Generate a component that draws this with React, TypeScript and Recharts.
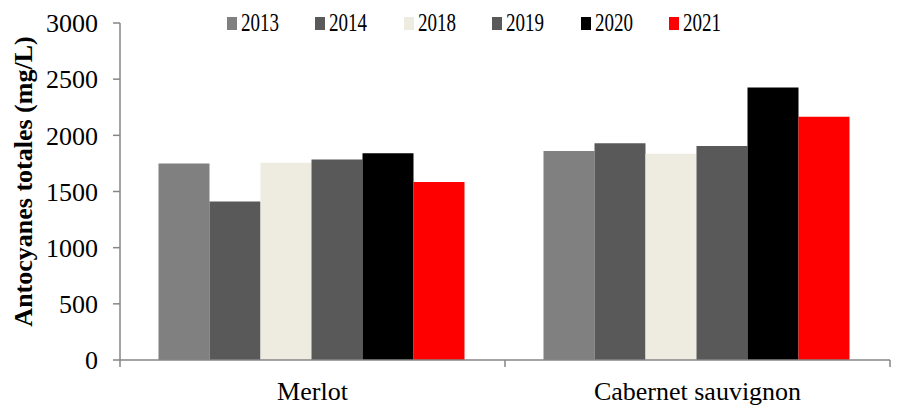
import { BarChart, Bar, XAxis, YAxis, Legend, Label } from 'recharts'

const CATEGORIES = ['Merlot', 'Cabernet sauvignon']
const YEARS = ['2013', '2014', '2018', '2019', '2020', '2021']
const V2013 = [1750, 1860]
const V2014 = [1410, 1930]
const V2018 = [1755, 1835]
const V2019 = [1785, 1905]
const V2020 = [1840, 2425]
const V2021 = [1585, 2165]
const SERIES = [V2013, V2014, V2018, V2019, V2020, V2021]
const COLORS = ['#808080', '#595959', '#EEECE1', '#595959', '#000000', '#FF0000']
const Y_TICKS = [0, 500, 1000, 1500, 2000, 2500, 3000]

const data = CATEGORIES.map((cat, i) => {
  const row: any = { cat }
  YEARS.forEach((y, j) => { row[y] = SERIES[j][i] })
  return row
})

const FONT = '"Liberation Serif", "Times New Roman", serif'
const AXIS = '#868686'
const W = 899
const H = 407
const MARGIN = { top: 23, right: 9, bottom: 0, left: 0 }
const Y_W = 120

function CatTick(props: any) {
  const { x, y, payload, index } = props
  const band = (W - Y_W - MARGIN.right) / CATEGORIES.length
  const half = payload?.offset || band / 2
  const top = y - 7
  return (
    <g>
      <line x1={x - half} x2={x - half} y1={top} y2={top + 7} stroke={AXIS} strokeWidth={1.5} />
      {index === CATEGORIES.length - 1 && (
        <line x1={x + half} x2={x + half} y1={top} y2={top + 7} stroke={AXIS} strokeWidth={1.5} />
      )}
      <text x={x} y={top + 40} textAnchor="middle" fontSize={26} fontFamily={FONT} fill="#000">
        {payload.value}
      </text>
    </g>
  )
}

function LegendBox({ payload }: any) {
  return (
    <div style={{ display: 'flex', fontFamily: FONT }}>
      {(payload || []).map((p: any) => (
        <div key={p.value} style={{ width: 88.4, display: 'flex', alignItems: 'flex-start', position: 'relative', height: 30 }}>
          <span style={{ width: 10, height: 13, background: p.color, marginTop: 17, display: 'inline-block' }} />
          <span style={{
            display: 'inline-block', fontSize: 26, lineHeight: '26px', marginTop: 10, marginLeft: 4,
            transform: 'scaleX(0.73)', transformOrigin: 'left center', color: '#000',
          }}>
            {p.value}
          </span>
        </div>
      ))}
    </div>
  )
}

function YTitle(props: any) {
  const cy = 181.5
  const cx = 32
  return (
    <text
      x={cx} y={cy} transform={`rotate(-90 ${cx} ${cy})`} textAnchor="middle"
      fontSize={26} fontWeight="bold" fontFamily={FONT} fill="#000"
    >
      Antocyanes totales (mg/L)
    </text>
  )
}

export default function App() {
  return (
    <div style={{ position: 'absolute', left: 0, top: 0, width: W, height: H, background: '#fff' }}>
      <BarChart width={W} height={H} data={data} margin={MARGIN} barCategoryGap="10%" barGap={0}>
        <XAxis
          dataKey="cat"
          height={47}
          axisLine={{ stroke: AXIS, strokeWidth: 1.5 }}
          tickLine={false}
          tickSize={7}
          tickMargin={0}
          tick={<CatTick />}
          interval={0}
        />
        <YAxis
          width={Y_W}
          domain={[0, 3000]}
          ticks={Y_TICKS}
          interval={0}
          axisLine={{ stroke: AXIS, strokeWidth: 1.5 }}
          tickLine={{ stroke: AXIS, strokeWidth: 1.5 }}
          tickSize={7}
          tickMargin={15}
          tick={{ fontSize: 26, fontFamily: FONT, fill: '#000' }}
        >
          <Label content={<YTitle />} />
        </YAxis>
        <Legend
          layout="horizontal"
          verticalAlign="middle"
          align="center"
          content={<LegendBox />}
          wrapperStyle={{ top: 0, left: 227, width: 560, height: 40 }}
        />
        {YEARS.map((y, j) => (
          <Bar key={y} dataKey={y} name={y} fill={COLORS[j]} isAnimationActive={false} />
        ))}
      </BarChart>
    </div>
  )
}
